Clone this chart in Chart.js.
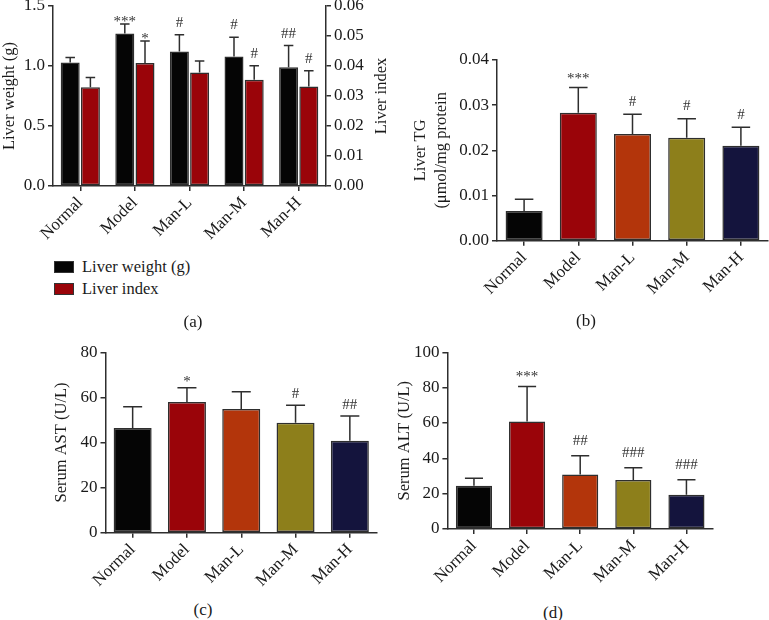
<!DOCTYPE html>
<html><head><meta charset="utf-8">
<script src="https://cdn.jsdelivr.net/npm/chart.js@4"></script>
<style>
html,body{margin:0;padding:0;background:#fff;width:769px;height:620px;overflow:hidden;position:relative;font-family:'Liberation Serif',serif;}
canvas{position:absolute;}
.lbl{position:absolute;font-size:17px;color:#1a1a1a;transform:translate(-50%,-50%);white-space:nowrap;}
.leg{position:absolute;left:54px;font-size:16.5px;color:#1a1a1a;display:flex;align-items:center;height:16px;white-space:nowrap;}
.leg .box{display:inline-block;width:18px;height:10px;border:1px solid #333;margin-right:8px;}
</style></head><body>
<canvas id="ca" width="390" height="260" style="left:0;top:-10px;width:390px;height:260px"></canvas>
<canvas id="cb" width="379" height="290" style="left:390px;top:30px;width:379px;height:290px"></canvas>
<canvas id="cc" width="390" height="270" style="left:0;top:330px;width:390px;height:270px"></canvas>
<canvas id="cd" width="379" height="270" style="left:390px;top:330px;width:379px;height:270px"></canvas>
<div class="leg" style="top:259px"><span class="box" style="background:#050505"></span>Liver weight (g)</div>
<div class="leg" style="top:281px"><span class="box" style="background:#9a0409"></span>Liver index</div>
<div class="lbl" style="left:193px;top:322px">(a)</div>
<div class="lbl" style="left:586px;top:321px">(b)</div>
<div class="lbl" style="left:203px;top:610px">(c)</div>
<div class="lbl" style="left:553px;top:613px">(d)</div>
<script>
// ---- data ----
const categories = ['Normal', 'Model', 'Man-L', 'Man-M', 'Man-H'];

const liverWeight = [1.03, 1.27, 1.12, 1.08, 0.99];
const liverWeightSD = [0.04, 0.08, 0.14, 0.16, 0.18];
const liverWeightSig = ['', '***', '#', '#', '##'];

const liverIndex = [0.0329, 0.0410, 0.0378, 0.0354, 0.0332];
const liverIndexSD = [0.0033, 0.0073, 0.0039, 0.0047, 0.0052];
const liverIndexSig = ['', '*', '', '#', '#'];

const liverTG = [0.0066, 0.0283, 0.0236, 0.0228, 0.0210];
const liverTGSD = [0.0026, 0.0056, 0.0044, 0.0042, 0.0041];
const liverTGSig = ['', '***', '#', '#', '#'];

const serumAST = [46.4, 58.0, 54.9, 48.8, 40.8];
const serumASTSD = [9.5, 6.3, 7.6, 7.7, 11.0];
const serumASTSig = ['', '*', '', '#', '##'];

const serumALT = [24.5, 60.8, 30.8, 27.7, 19.4];
const serumALTSD = [4.2, 19.8, 10.7, 7.0, 8.5];
const serumALTSig = ['', '***', '##', '###', '###'];

const weightTicks = ['0.0', '0.5', '1.0', '1.5'];
const indexTicks = ['0.00', '0.01', '0.02', '0.03', '0.04', '0.05', '0.06'];
const tgTicks = ['0.00', '0.01', '0.02', '0.03', '0.04'];
const astTicks = ['0', '20', '40', '60', '80'];
const altTicks = ['0', '20', '40', '60', '80', '100'];

// ---- styles ----
const AX = '#2e2e2e';
const TXT = '#1a1a1a';
const groupColors = ['#050505', '#9a0409', '#b3350b', '#8d7f1b', '#14143d'];
const FONT = "'Liberation Serif', serif";
Chart.defaults.font.family = FONT;
Chart.defaults.color = TXT;

function zeroPad(s) { s.paddingLeft = 0; s.paddingRight = 0; s.paddingTop = 0; s.paddingBottom = 0; }

function yScale(ticksArr, pos, width, title) {
  return {
    type: 'linear', position: pos,
    min: parseFloat(ticksArr[0]), max: parseFloat(ticksArr[ticksArr.length - 1]),
    afterBuildTicks: s => { s.ticks = ticksArr.map(t => ({ value: parseFloat(t) })); },
    ticks: { callback: (v, i) => ticksArr[i], padding: 3, color: TXT, font: { size: 17 } },
    grid: { drawOnChartArea: false, drawTicks: true, tickLength: 5, color: AX, lineWidth: 1.5 },
    border: { display: true, color: AX, width: 1.5 },
    title: title || { display: false },
    afterFit: s => { s.width = width; zeroPad(s); }
  };
}
function xScale(height) {
  return {
    type: 'category', offset: true,
    grid: { offset: false, drawOnChartArea: false, drawTicks: true, tickLength: 5, color: AX, lineWidth: 1.5 },
    border: { display: true, color: AX, width: 1.5 },
    ticks: { minRotation: 45, maxRotation: 45, autoSkip: false, padding: 2, color: TXT, font: { size: 17 } },
    afterFit: s => { s.height = height; zeroPad(s); }
  };
}
function axTitle(text, padTop, lh) {
  return { display: true, text: text, color: TXT, font: { size: 16.5, lineHeight: lh || 1.2 }, padding: { top: padTop, bottom: 0 } };
}

const errorBars = {
  id: 'errorBars',
  afterDatasetsDraw(chart) {
    const cfg = chart.options.plugins.errorBars || {};
    const ctx = chart.ctx;
    chart.data.datasets.forEach((ds, di) => {
      const meta = chart.getDatasetMeta(di);
      const yS = chart.scales[meta.yAxisID];
      meta.data.forEach((bar, i) => {
        const v = ds.data[i], e = ds.sd[i];
        const yTop = yS.getPixelForValue(v + e);
        const half = bar.width / 4;
        ctx.save();
        ctx.strokeStyle = AX; ctx.lineWidth = 1.5;
        ctx.beginPath();
        ctx.moveTo(bar.x, bar.y); ctx.lineTo(bar.x, yTop);
        ctx.moveTo(bar.x - half, yTop); ctx.lineTo(bar.x + half, yTop);
        ctx.stroke();
        const s = ds.sig ? ds.sig[i] : '';
        if (s) {
          ctx.font = '15px ' + FONT;
          ctx.fillStyle = '#333';
          ctx.textAlign = 'center'; ctx.textBaseline = 'alphabetic';
          const m = ctx.measureText(s);
          const gap = s.indexOf('*') >= 0 ? cfg.starGap : cfg.hashGap;
          ctx.fillText(s, bar.x, yTop - gap - m.actualBoundingBoxDescent);
        }
        ctx.restore();
      });
    });
  }
};
const sideTitle = {
  id: 'sideTitle',
  afterDraw(chart) {
    const o = chart.options.plugins.sideTitle;
    if (!o || !o.text) return;
    const ctx = chart.ctx;
    ctx.save();
    ctx.translate(o.x, (chart.chartArea.top + chart.chartArea.bottom) / 2);
    ctx.rotate(-Math.PI / 2);
    ctx.font = '16.5px ' + FONT;
    ctx.fillStyle = TXT; ctx.textAlign = 'center'; ctx.textBaseline = 'middle';
    ctx.fillText(o.text, 0, 0);
    ctx.restore();
  }
};

function barDs(label, data, sd, sig, colors, yID) {
  return { label, data, sd, sig, backgroundColor: colors, borderColor: AX, borderWidth: 1.5, borderSkipped: false, yAxisID: yID || 'y' };
}
function baseOpts(pad, scales, plug, catPct, barPct) {
  return {
    responsive: false, animation: false,
    layout: { padding: pad },
    datasets: { bar: { categoryPercentage: catPct, barPercentage: barPct } },
    plugins: Object.assign({ legend: { display: false }, tooltip: { enabled: false } }, plug),
    scales
  };
}

// (a)
new Chart(document.getElementById('ca'), {
  type: 'bar',
  data: { labels: categories, datasets: [
    barDs('Liver weight (g)', liverWeight, liverWeightSD, liverWeightSig, groupColors[0], 'y'),
    barDs('Liver index', liverIndex, liverIndexSD, liverIndexSig, groupColors[1], 'y2')
  ] },
  options: baseOpts({ top: 16, right: 0, left: 0, bottom: 0 }, {
    x: xScale(64),
    y: yScale(weightTicks, 'left', 53, axTitle('Liver weight (g)', 0)),
    y2: yScale(indexTicks, 'right', 64)
  }, { errorBars: { starGap: 2, hashGap: 8 }, sideTitle: { text: 'Liver index', x: 382 } }, 0.74, 0.94),
  plugins: [errorBars, sideTitle]
});

// (b)
new Chart(document.getElementById('cb'), {
  type: 'bar',
  data: { labels: categories, datasets: [barDs('Liver TG', liverTG, liverTGSD, liverTGSig, groupColors)] },
  options: baseOpts({ top: 30, right: 1, left: 0, bottom: 0 }, {
    x: xScale(79.3),
    y: yScale(tgTicks, 'left', 107, axTitle(['Liver TG', '(\u03bcmol/mg protein'], 20.5, 1.273))
  }, { errorBars: { starGap: 8.5, hashGap: 8.5 } }, 0.683, 1),
  plugins: [errorBars]
});

// (c)
new Chart(document.getElementById('cc'), {
  type: 'bar',
  data: { labels: categories, datasets: [barDs('Serum AST', serumAST, serumASTSD, serumASTSig, groupColors)] },
  options: baseOpts({ top: 22.3, right: 13, left: 0, bottom: 0 }, {
    x: xScale(67.3),
    y: yScale(astTicks, 'left', 105.5, axTitle('Serum AST (U/L)', 52.1))
  }, { errorBars: { starGap: 6, hashGap: 7 } }, 0.70, 1),
  plugins: [errorBars]
});

// (d)
new Chart(document.getElementById('cd'), {
  type: 'bar',
  data: { labels: categories, datasets: [barDs('Serum ALT', serumALT, serumALTSD, serumALTSig, groupColors)] },
  options: baseOpts({ top: 22.3, right: 56, left: 0, bottom: 0 }, {
    x: xScale(71),
    y: yScale(altTicks, 'left', 57.4, axTitle('Serum ALT (U/L)', 5.1))
  }, { errorBars: { starGap: 10, hashGap: 11 } }, 0.68, 1),
  plugins: [errorBars]
});
</script>
</body></html>
